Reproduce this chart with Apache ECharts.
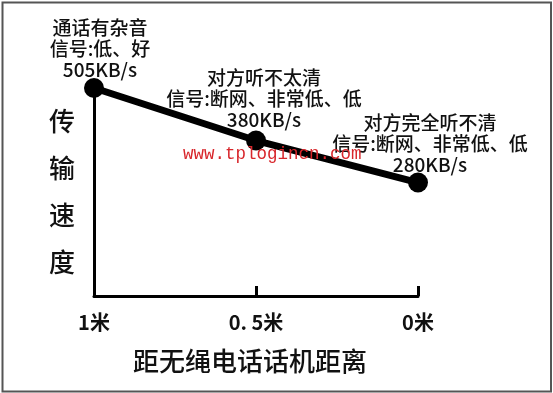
<!DOCTYPE html>
<html>
<head>
<meta charset="utf-8">
<style>
html,body{margin:0;padding:0;background:#fff;}
#chart{width:553px;height:393px;}
</style>
<script src="https://cdn.jsdelivr.net/npm/echarts@6/dist/echarts.min.js"></script>
</head>
<body>
<div id="chart"></div>
<script>
const categories = ['1米', '0. 5米', '0米'];
const speeds = [505, 380, 280];
const unit = 'KB/s';
const statuses = ['通话有杂音', '对方听不太清', '对方完全听不清'];
const signals = ['信号:低、好', '信号:断网、非常低、低', '信号:断网、非常低、低'];
const xAxisName = '距无绳电话话机距离';
const yAxisName = '传输速度';
const watermark = 'www.tplogincn.com';

const FONT = '"Noto Sans CJK SC", "Noto Sans", sans-serif';
const labelOffsets = [[6, 2], [8, 0], [12, 3]];

const chart = echarts.init(document.getElementById('chart'));
const seriesData = speeds.map((v, i) => ({
  value: v,
  label: { offset: labelOffsets[i] }
}));

chart.setOption({
  animation: false,
  backgroundColor: '#fff',
  grid: { left: 94, right: 135, top: 88, bottom: 97 },
  xAxis: {
    type: 'category',
    data: categories,
    boundaryGap: false,
    name: xAxisName,
    nameLocation: 'middle',
    nameGap: 52,
    nameTextStyle: { fontFamily: FONT, fontSize: 26, fontWeight: 500, color: '#111', padding: [0, 12, 0, 0] },
    axisLine: { lineStyle: { color: '#000', width: 3 } },
    axisTick: { inside: true, length: 10, lineStyle: { color: '#000', width: 3 } },
    axisLabel: { fontFamily: FONT, fontSize: 20, fontWeight: 'bold', color: '#111', margin: 16 },
    splitLine: { show: false }
  },
  yAxis: {
    type: 'value',
    min: 10,
    max: 505,
    name: yAxisName.split('').join('\n'),
    nameLocation: 'middle',
    nameRotate: 0,
    nameGap: 19,
    nameTextStyle: { fontFamily: FONT, fontSize: 26, fontWeight: 500, color: '#111', lineHeight: 47 },
    axisLine: { show: true, lineStyle: { color: '#000', width: 3 } },
    axisTick: { show: false },
    axisLabel: { show: false },
    splitLine: { show: false }
  },
  series: [{
    type: 'line',
    data: seriesData,
    symbol: 'circle',
    symbolSize: 20,
    lineStyle: { color: '#000', width: 7 },
    itemStyle: { color: '#000' },
    label: {
      show: true,
      position: 'top',
      distance: 0,
      fontFamily: FONT,
      fontSize: 19,
      fontWeight: 500,
      lineHeight: 21,
      color: '#111',
      align: 'center',
      formatter: p => statuses[p.dataIndex] + '\n' + signals[p.dataIndex] + '\n' + p.value + unit
    }
  }],
  graphic: [
    {
      type: 'rect',
      shape: { x: 2.5, y: 2.5, width: 548.5, height: 389 },
      style: { fill: 'none', stroke: '#555', lineWidth: 2 },
      z: 100
    },
    {
      type: 'text',
      left: 183,
      top: 145,
      style: { text: watermark, font: '17.5px "Liberation Mono", monospace', fill: '#d8262b' },
      z: 100
    }
  ]
});
</script>
</body>
</html>
